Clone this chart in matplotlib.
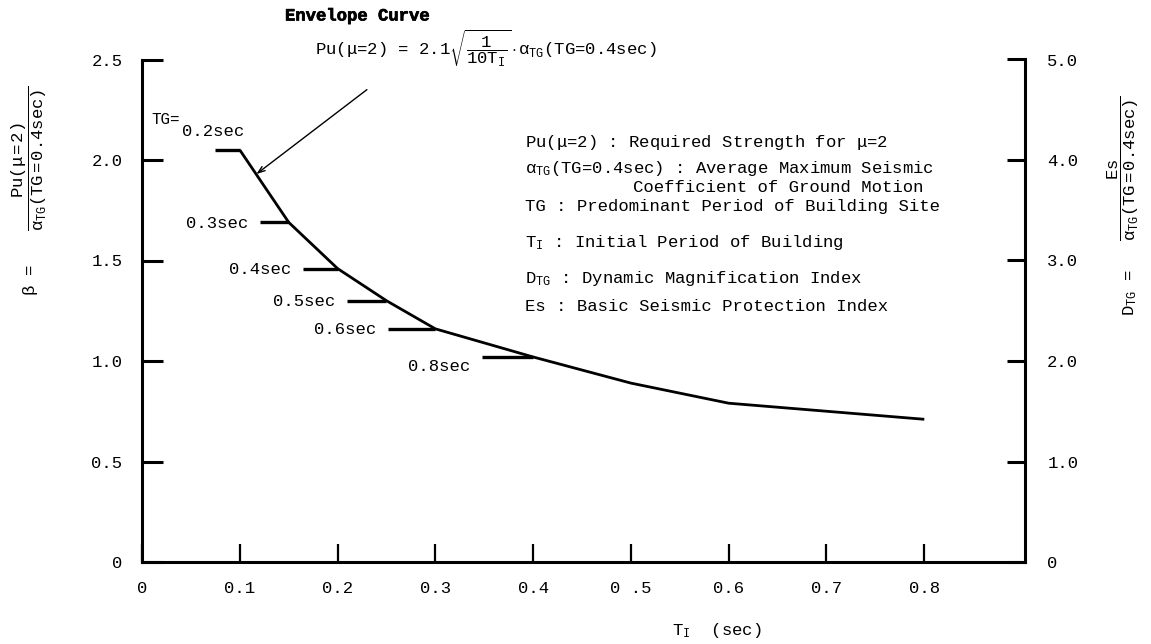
import matplotlib
matplotlib.use("Agg")
import matplotlib.pyplot as plt
import matplotlib.patheffects as pe

plt.rcParams['font.family'] = ['Liberation Mono', 'DejaVu Sans Mono']
plt.rcParams['mathtext.fontset'] = 'custom'
plt.rcParams['mathtext.rm'] = 'Liberation Mono'
plt.rcParams['mathtext.it'] = 'Liberation Mono'
plt.rcParams['mathtext.bf'] = 'Liberation Mono:bold'

# Envelope curve: required strength ratio beta against initial period T_I
period_ti = [0.10, 0.15, 0.20, 0.25, 0.30, 0.40, 0.50, 0.60, 0.70, 0.80]
beta = [2.05, 1.69, 1.46, 1.30, 1.16, 1.02, 0.89, 0.79, 0.75, 0.71]

# Plateaus for each predominant site period TG
tg_labels = ["0.2sec", "0.3sec", "0.4sec", "0.5sec", "0.6sec", "0.8sec"]
plateau_start = [0.075, 0.121, 0.165, 0.210, 0.252, 0.348]
plateau_end = [0.10, 0.15, 0.20, 0.25, 0.30, 0.40]
plateau_level = [2.05, 1.69, 1.46, 1.30, 1.16, 1.02]

x_ticks = [0.0, 0.1, 0.2, 0.3, 0.4, 0.5, 0.6, 0.7, 0.8]
x_tick_labels = ["0", "0.1", "0.2", "0.3", "0.4", "0 .5", "0.6", "0.7", "0.8"]
beta_ticks = [0.0, 0.5, 1.0, 1.5, 2.0, 2.5]
beta_tick_labels = ["0", "0.5", "1.0", "1.5", "2.0", "2.5"]
dtg_ticks = [0.0, 1.0, 2.0, 3.0, 4.0, 5.0]
dtg_tick_labels = ["0", "1.0", "2.0", "3.0", "4.0", "5.0"]

legend_lines = [
    (525, 143, r"Pu($\mu$=2) : Required Strength for $\mu$=2"),
    (525, 168, r"$\alpha_{TG}$(TG=0.4sec) : Average Maximum Seismic"),
    (633, 187, "Coefficient of Ground Motion"),
    (525, 207, "TG : Predominant Period of Building Site"),
    (525, 243, r"$T_I$ : Initial Period of Building"),
    (525, 279, r"$D_{TG}$ : Dynamic Magnification Index"),
    (525, 307, "Es : Basic Seismic Protection Index"),
]

W, H = 1151, 644
FS = 12.4
LW = 2.2


def fp(x, y):
    """Pixel position (from top-left) to figure fraction."""
    return x / W, 1 - y / H


fig = plt.figure(figsize=(W / 100, H / 100), dpi=100)
ax = fig.add_axes([142 / W, 1 - 562 / H, (1025 - 142) / W, (562 - 59.5) / H])
ax.set_xlim(0, 0.903)
ax.set_ylim(0, 2.5)

ax.spines['top'].set_visible(False)
ax.spines['right'].set_visible(False)
for side in ('left', 'bottom'):
    ax.spines[side].set_linewidth(LW)

ax.set_xticks(x_ticks)
ax.set_xticklabels(x_tick_labels)
ax.set_yticks(beta_ticks)
ax.set_yticklabels(beta_tick_labels)
ax.tick_params(axis='x', direction='in', length=13, width=1.6, labelsize=FS, pad=14)
ax.tick_params(axis='y', direction='in', length=15, width=LW, labelsize=FS, pad=14)

ax2 = ax.twinx()
ax2.set_ylim(0, 5.0)
for side in ('top', 'left', 'bottom'):
    ax2.spines[side].set_visible(False)
ax2.spines['right'].set_linewidth(LW)
ax2.set_yticks(dtg_ticks)
ax2.set_yticklabels(dtg_tick_labels)
ax2.tick_params(axis='y', direction='in', length=13, width=LW, labelsize=FS, pad=16)

# envelope curve and plateaus
ax.plot(period_ti, beta, color='black', lw=2.0, solid_capstyle='butt')
for x0, x1, y, lab in zip(plateau_start, plateau_end, plateau_level, tg_labels):
    ax.plot([x0, x1], [y, y], color='black', lw=2.4, solid_capstyle='butt')
    if lab == "0.2sec":
        continue
    dy = -0.045 if lab == "0.8sec" else -0.005
    ax.text(x0 - 0.012, y + dy, lab, ha='right', va='center', fontsize=FS)

ax.text(0.010, 2.20, "TG=", ha='left', va='center', fontsize=FS - 1)
ax.text(0.041, 2.14, "0.2sec", ha='left', va='center', fontsize=FS)

# leader from the formula to the curve
ax.annotate("", xy=(0.117, 1.93), xytext=(0.230, 2.35),
            arrowprops=dict(arrowstyle='->,head_length=0.5,head_width=0.18',
                            lw=1.0, color='black', shrinkA=0, shrinkB=0),
            annotation_clip=False)

# heading and formula
fig.text(*fp(285, 16), "Envelope Curve", ha='left', va='center',
         fontsize=FS, fontweight='bold',
         path_effects=[pe.withStroke(linewidth=0.5, foreground='black')])
fig.text(*fp(315, 48),
         r"Pu($\mu$=2) = 2.1$\sqrt{\dfrac{1}{10T_I}}\cdot\alpha_{TG}$(TG=0.4sec)",
         ha='left', va='center', fontsize=FS)

for x, y, s in legend_lines:
    fig.text(*fp(x, y), s, ha='left', va='center', fontsize=FS)

# left axis title
fig.text(*fp(31, 280), r"$\beta$ =", rotation=90, ha='center', va='center', fontsize=FS)
fig.text(*fp(29, 158), r"$\dfrac{Pu(\mu=2)}{\alpha_{TG}(TG=0.4sec)}$",
         rotation=90, ha='center', va='center', fontsize=FS)

# right axis title
fig.text(*fp(1130, 292), r"$D_{TG}$ =", rotation=90, ha='center', va='center', fontsize=FS)
fig.text(*fp(1123, 168), r"$\dfrac{Es}{\alpha_{TG}(TG=0.4sec)}$",
         rotation=90, ha='center', va='center', fontsize=FS)

# x axis title
fig.text(*fp(672, 630), r"$T_I$  (sec)", ha='left', va='center', fontsize=FS)

fig.savefig("out.png", dpi=100, facecolor='white')
